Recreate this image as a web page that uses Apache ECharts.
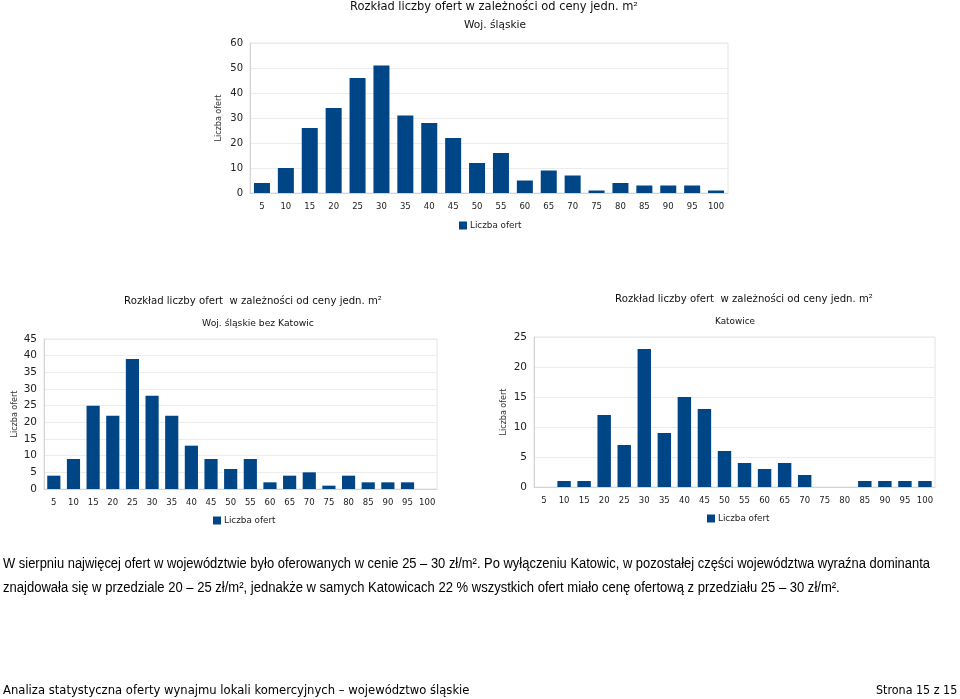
<!DOCTYPE html>
<html><head><meta charset="utf-8">
<script src="https://cdn.jsdelivr.net/npm/echarts@6/dist/echarts.min.js"></script>
<style>
html,body{margin:0;padding:0;background:#fff;width:960px;height:699px;overflow:hidden}
#c{position:absolute;left:0;top:0;width:960px;height:699px}
.t{position:absolute;white-space:nowrap;color:#000;line-height:1;margin:0}
.p{font-family:"Liberation Sans",Arial,sans-serif;font-size:14px;transform-origin:0 50%}
.f{font-family:"DejaVu Sans Condensed","DejaVu Sans",sans-serif;font-size:13px}
</style></head><body>
<div id="c"></div>
<div class="t p" id="p1" data-w="927" style="left:3px;top:556px">W sierpniu najwięcej ofert w województwie było oferowanych w cenie 25 – 30 zł/m². Po wyłączeniu Katowic, w pozostałej części województwa wyraźna dominanta</div>
<div class="t p" id="p2" data-w="837" style="left:3px;top:580px">znajdowała się w przedziale 20 – 25 zł/m², jednakże w samych Katowicach 22 % wszystkich ofert miało cenę ofertową z przedziału 25 – 30 zł/m².</div>
<div class="t f" id="f1" data-w="466" style="left:3px;top:683px;transform-origin:0 50%">Analiza statystyczna oferty wynajmu lokali komercyjnych – województwo śląskie</div>
<div class="t f" id="f2" data-w="81" style="right:3px;top:683px;transform-origin:100% 50%">Strona 15 z 15</div>
<script>
// ---- data ----
const categories = ['5','10','15','20','25','30','35','40','45','50','55','60','65','70','75','80','85','90','95','100'];
const slaskie    = [4,10,26,34,46,51,31,28,22,12,16,5,9,7,1,4,3,3,3,1];
const bezKatowic = [4,9,25,22,39,28,22,13,9,6,9,2,4,5,1,4,2,2,2,0];
const katowice   = [0,1,1,12,7,23,9,15,13,6,4,3,4,2,0,0,1,1,1,1];
const yMax = [60, 45, 25];
const yInterval = [10, 5, 5];
const seriesName = 'Liczba ofert';
const yName = 'Liczba ofert';
const titles = ['Rozkład liczby ofert w zależności od ceny jedn. m²',
                'Rozkład liczby ofert  w zależności od ceny jedn. m²',
                'Rozkład liczby ofert  w zależności od ceny jedn. m²'];
const subtitles = ['Woj. śląskie', 'Woj. śląskie bez Katowic', 'Katowice'];
const values = [slaskie, bezKatowic, katowice];

// ---- layout ----
const FONT = '"DejaVu Sans", Verdana, sans-serif';
const panels = [
  {grid:{left:250,top:43,width:478,height:150}, title:{x:494,y:7,w:288}, sub:{x:495,y:25,w:62},
   legend:{left:459,top:221}, nameGap:27, ySize:10},
  {grid:{left:44,top:339,width:393,height:150}, title:{x:253,y:301,w:258}, sub:{x:258,y:324,w:112},
   legend:{left:213,top:516}, nameGap:25, ySize:10.5},
  {grid:{left:534,top:337,width:401,height:150}, title:{x:744,y:299,w:258}, sub:{x:735,y:322,w:40},
   legend:{left:707,top:514}, nameGap:26, ySize:10.5}
];
const BAR = '#004586';
const ctx = document.createElement('canvas').getContext('2d');
function fitSize(text, w){ ctx.font = '100px ' + FONT; return 100 * w / ctx.measureText(text).width; }

const option = {
  animation:false,
  backgroundColor:'#fff',
  grid: panels.map(p => Object.assign({show:true, borderColor:'#e4e4e4', borderWidth:1, backgroundColor:'transparent'}, p.grid)),
  xAxis: panels.map((p,i) => ({
    type:'category', gridIndex:i, data:categories,
    axisLine:{lineStyle:{color:'#d4d4d4'}}, axisTick:{show:false},
    axisLabel:{interval:0, fontFamily:FONT, fontSize:8.5, color:'#222', margin:9}
  })),
  yAxis: panels.map((p,i) => ({
    type:'value', gridIndex:i, min:0, max:yMax[i], interval:yInterval[i],
    name:yName, nameLocation:'middle', nameGap:p.nameGap, nameRotate:90,
    nameTextStyle:{fontFamily:FONT, fontSize:8, color:'#333'},
    axisLine:{show:true, lineStyle:{color:'#d4d4d4'}}, axisTick:{show:false},
    splitLine:{lineStyle:{color:'#ececec'}},
    axisLabel:{fontFamily:FONT, fontSize:p.ySize, color:'#222', margin:7}
  })),
  legend: panels.map(p => ({
    left:p.legend.left, top:p.legend.top, padding:0, itemWidth:8, itemHeight:8, itemGap:4,
    icon:'rect', data:[seriesName], selectedMode:false,
    textStyle:{fontFamily:FONT, fontSize:8.8, color:'#222', padding:[0,0,0,-2]}
  })),
  series: values.map((v,i) => ({
    type:'bar', name:seriesName, xAxisIndex:i, yAxisIndex:i, data:v,
    barCategoryGap:'33%', itemStyle:{color:BAR}
  })),
  graphic: panels.flatMap((p,i) => [
    {type:'text', x:p.title.x, y:p.title.y, silent:true,
     style:{text:titles[i], fill:'#111', font: fitSize(titles[i], p.title.w).toFixed(2)+'px '+FONT, textAlign:'center', textVerticalAlign:'middle'}},
    {type:'text', x:p.sub.x, y:p.sub.y, silent:true,
     style:{text:subtitles[i], fill:'#111', font: fitSize(subtitles[i], p.sub.w).toFixed(2)+'px '+FONT, textAlign:'center', textVerticalAlign:'middle'}}
  ])
};
const chart = echarts.init(document.getElementById('c'), null, {renderer:'canvas'});
chart.setOption(option);

document.querySelectorAll('.t').forEach(el => {
  const w = +el.dataset.w; const s = w / el.offsetWidth;
  el.style.transform = 'scaleX(' + s.toFixed(4) + ')';
});
</script>
</body></html>
